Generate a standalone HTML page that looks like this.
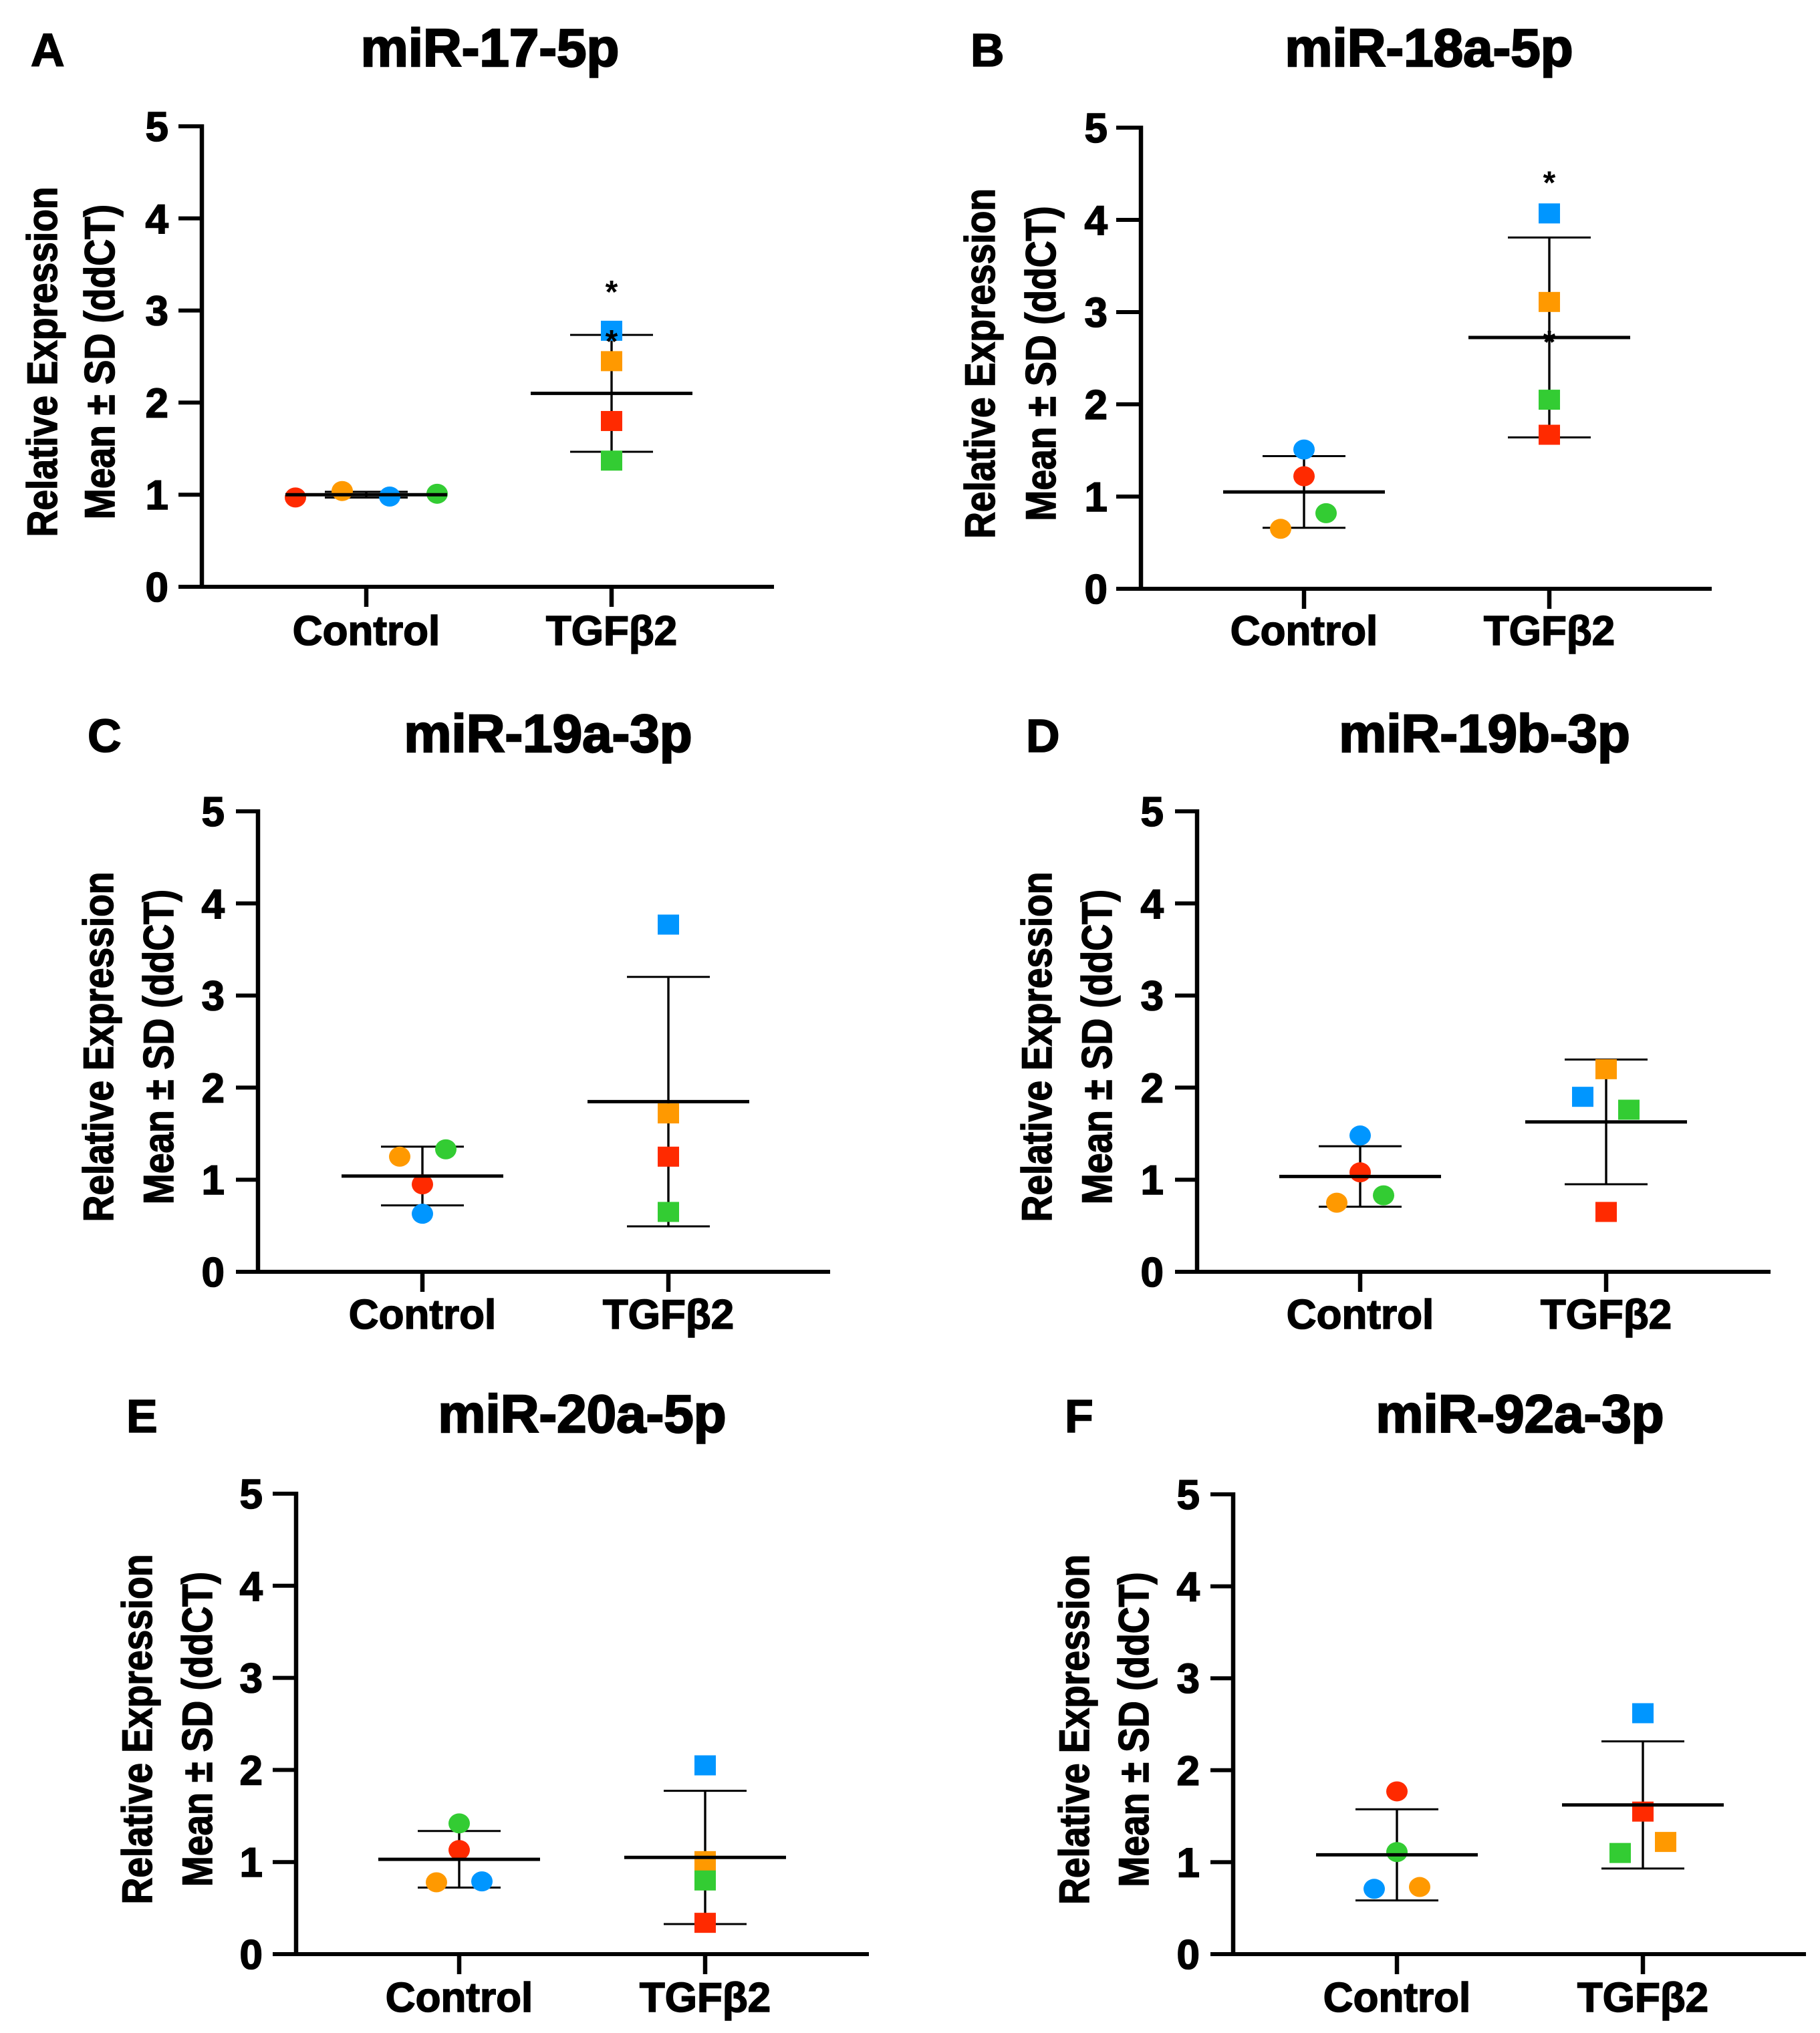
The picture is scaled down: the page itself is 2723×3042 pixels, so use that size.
<!DOCTYPE html>
<html><head><meta charset="utf-8">
<style>
html,body{margin:0;padding:0;background:#fff;}
svg{display:block;}
text{font-family:"Liberation Sans",Arial,sans-serif;font-weight:bold;fill:#000;}
.heavy{stroke:#000;stroke-width:1.6px;}
.heavy2{stroke:#000;stroke-width:2.4px;}
</style></head>
<body>
<svg id="fig" width="2723" height="3042" viewBox="0 0 2094.6 3042" preserveAspectRatio="none" xmlns="http://www.w3.org/2000/svg"></svg>
<script>
// ---- data, order: red, orange, blue, green ----
const categories = ["Control", "TGFβ2"];
const yTicks = [0, 1, 2, 3, 4, 5];
const panelTitles = ["miR-17-5p","miR-18a-5p","miR-19a-3p","miR-19b-3p","miR-20a-5p","miR-92a-3p"];
const panelLetters = ["A","B","C","D","E","F"];
const ctrlA = [0.97, 1.04, 0.98, 1.01];
const tgfA  = [1.80, 2.45, 2.78, 1.37];
const ctrlB = [1.22, 0.65, 1.51, 0.82];
const tgfB  = [1.67, 3.11, 4.07, 2.05];
const ctrlC = [0.95, 1.25, 0.63, 1.33];
const tgfC  = [1.25, 1.72, 3.77, 0.65];
const ctrlD = [1.08, 0.75, 1.48, 0.83];
const tgfD  = [0.65, 2.20, 1.90, 1.76];
const ctrlE = [1.13, 0.78, 0.79, 1.42];
const tgfE  = [0.34, 1.01, 2.05, 0.80];
const ctrlF = [1.77, 0.73, 0.71, 1.11];
const tgfF  = [1.55, 1.22, 2.62, 1.10];
const starsA = [3.26, 2.72];
const starsB = [4.46, 2.73];

// ---- layout (real pixel coords) ----
const S = 1.3;
const colors = ["#ff2a00", "#ff9900", "#0096ff", "#33cc33"];
const layouts = [
  {ax:302,  y5:189,  y0:878,  xl:267,  xr:1158, cx:[548,915],   title:733,  tb:99,   lx:46,   l1:60,   l2:146,  cb:965,
   ctrl:ctrlA, tgf:tgfA, jc:[-106,-36,35,106], jt:[0,0,0,0], stars:starsA},
  {ax:1707, y5:191,  y0:881,  xl:1670, xr:2561, cx:[1951,2318], title:2138, tb:99,   lx:1452, l1:1463, l2:1554, cb:965,
   ctrl:ctrlB, tgf:tgfB, jc:[0,-35,0,33], jt:[0,0,0,0], stars:starsB},
  {ax:386,  y5:1214, y0:1903, xl:353,  xr:1242, cx:[632,1000],  title:820,  tb:1125, lx:131,  l1:144,  l2:234,  cb:1988,
   ctrl:ctrlC, tgf:tgfC, jc:[0,-34,0,35], jt:[0,0,0,0], stars:[]},
  {ax:1791, y5:1214, y0:1903, xl:1758, xr:2649, cx:[2035,2403], title:2221, tb:1125, lx:1535, l1:1548, l2:1638, cb:1988,
   ctrl:ctrlD, tgf:tgfD, jc:[0,-35,0,35], jt:[0,0,-35,34], stars:[]},
  {ax:443,  y5:2235, y0:2924, xl:408,  xr:1300, cx:[687,1055],  title:871,  tb:2143, lx:189,  l1:202,  l2:292,  cb:3010,
   ctrl:ctrlE, tgf:tgfE, jc:[0,-34,34,0], jt:[0,0,0,0], stars:[]},
  {ax:1845, y5:2236, y0:2924, xl:1811, xr:2702, cx:[2090,2458], title:2274, tb:2143, lx:1593, l1:1604, l2:1693, cb:3010,
   ctrl:ctrlF, tgf:tgfF, jc:[0,34,-34,0], jt:[0,34,0,-34], stars:[]}
];

const NS = "http://www.w3.org/2000/svg";
const svg = document.getElementById("fig");
function mk(tag, attrs, parent){
  const e = document.createElementNS(NS, tag);
  for (const k in attrs) e.setAttribute(k, attrs[k]);
  (parent||svg).appendChild(e);
  return e;
}
function X(v){ return v / S; }
function meanOf(a){ return a.reduce((s,v)=>s+v,0)/a.length; }
function sdOf(a){ const m = meanOf(a); return Math.sqrt(a.reduce((s,v)=>s+(v-m)*(v-m),0)/(a.length-1)); }

layouts.forEach((L, p) => {
  const g = mk("g", {});
  
  
  const tg = mk("g", {transform:`scale(${1/S},1)`}, g);
  
  
  const yS = v => L.y0 - (L.y0 - L.y5) * v / 5;

  let t = mk("text", {x:L.lx, y:L.tb, "font-size":70, class:"heavy"}, tg);
  t.textContent = panelLetters[p];
  
  

  t = mk("text", {x:L.title, y:L.tb, "font-size":80, "text-anchor":"middle", class:"heavy2"}, tg);
  t.textContent = panelTitles[p];
  
  

  const cy = (L.y0 + L.y5) / 2 + 8;
  t = mk("text", {x:0, y:0, "font-size":63, "text-anchor":"middle", class:"heavy", transform:`translate(${L.l1+25},${cy}) rotate(-90) scale(0.875,1)`}, tg);
  t.textContent = "Relative Expression";
  
  
  t = mk("text", {x:0, y:0, "font-size":63, "text-anchor":"middle", class:"heavy", transform:`translate(${L.l2+25},${cy}) rotate(-90) scale(0.875,1)`}, tg);
  t.textContent = "Mean ± SD (ddCT)";
  
  

  let a = mk("line", {x1:X(L.ax), y1:L.y5-3, x2:X(L.ax), y2:L.y0+3, stroke:"#000", "stroke-width":5}, g);
  
  
  a = mk("line", {x1:X(L.xl), y1:L.y0, x2:X(L.xr), y2:L.y0, stroke:"#000", "stroke-width":6}, g);
  
  

  yTicks.forEach(v => {
    const ty = yS(v);
    const l = mk("line", {x1:X(L.xl), y1:ty, x2:X(L.ax), y2:ty, stroke:"#000", "stroke-width":6}, g);
    
    
    const tt = mk("text", {x:L.ax - 50, y:ty + 22, "font-size":62, "text-anchor":"end", class:"heavy"}, tg);
    tt.textContent = v;
    
    
  });

  categories.forEach((c, i) => {
    const l = mk("line", {x1:X(L.cx[i]), y1:L.y0, x2:X(L.cx[i]), y2:L.y0 + 30, stroke:"#000", "stroke-width":5}, g);
    
    
    const tt = mk("text", {x:L.cx[i], y:L.cb, "font-size":62, "text-anchor":"middle", class:"heavy"}, tg);
    tt.textContent = c;
    
    
  });

  [L.ctrl, L.tgf].forEach((vals, i) => {
    const cxp = L.cx[i];
    const m = meanOf(vals), sd = sdOf(vals);
    const eb = mk("g", {}, g);
    
    
    mk("line", {x1:X(cxp), y1:yS(m+sd), x2:X(cxp), y2:yS(m-sd), stroke:"#000", "stroke-width":2.6}, eb);
    mk("line", {x1:X(cxp-62), y1:yS(m+sd), x2:X(cxp+62), y2:yS(m+sd), stroke:"#000", "stroke-width":3}, eb);
    mk("line", {x1:X(cxp-62), y1:yS(m-sd), x2:X(cxp+62), y2:yS(m-sd), stroke:"#000", "stroke-width":3}, eb);

    const jit = i ? L.jt : L.jc;
    vals.forEach((v, k) => {
      const px = X(cxp + jit[k]), py = yS(v);
      let mark;
      if (i === 0) {
        mark = mk("ellipse", {cx:px, cy:py, rx:16/S, ry:15, fill:colors[k]}, g);
        
      } else {
        mark = mk("rect", {x:px - 16/S, y:py - 15, width:32/S, height:30, fill:colors[k]}, g);
        
      }
      
    });

    const ml = mk("line", {x1:X(cxp-121), y1:yS(m), x2:X(cxp+121), y2:yS(m), stroke:"#000", "stroke-width":5}, g);
    
    
  });

  const sg = mk("g", {transform:`scale(${1/S},1)`}, g);
  
  
  L.stars.forEach(v => {
    const st = mk("text", {x:L.cx[1], y:yS(v) + 24, "font-size":48, "text-anchor":"middle"}, sg);
    st.textContent = "*";
    
    
  });
});
</script>
</body></html>
